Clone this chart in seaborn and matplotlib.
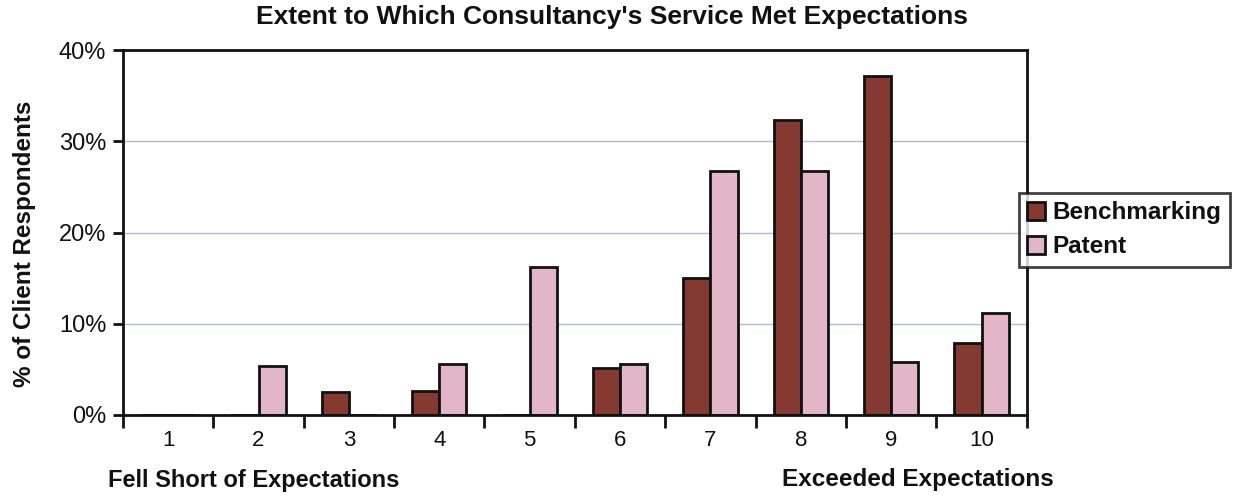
import matplotlib
matplotlib.use("Agg")
import matplotlib.pyplot as plt
import seaborn as sns
import pandas as pd
from matplotlib.ticker import FixedLocator, PercentFormatter

# Survey results: share of client respondents per rating (1-10)
ratings = [1, 2, 3, 4, 5, 6, 7, 8, 9, 10]
benchmarking = [0.0, 0.0, 2.5, 2.6, 0.0, 5.2, 15.0, 32.3, 37.2, 7.9]
patent = [0.0, 5.4, 0.0, 5.6, 16.2, 5.6, 26.8, 26.8, 5.8, 11.2]
series_names = ["Benchmarking", "Patent"]
series_colors = ["#843A30", "#E2B6C6"]

df = pd.DataFrame({
    "rating": ratings * 2,
    "pct": benchmarking + patent,
    "series": [series_names[0]] * len(ratings) + [series_names[1]] * len(ratings),
})

sns.set_theme(style="white")
plt.rcParams["font.family"] = ["Liberation Sans", "DejaVu Sans"]

ink = "#111111"
fig = plt.figure(figsize=(12.37, 4.97), dpi=100)
ax = fig.add_axes([0.0994, 0.165, 0.7306, 0.734])

sns.barplot(data=df, x="rating", y="pct", hue="series", hue_order=series_names,
            palette=series_colors, edgecolor=ink, linewidth=2.0,
            width=0.6, saturation=1, ax=ax, legend=True)

ax.set_ylim(0, 40)
ax.set_xlim(-0.5, 9.5)
ax.set_yticks([0, 10, 20, 30, 40])
ax.yaxis.set_major_formatter(PercentFormatter(decimals=0))
ax.grid(axis="y", color="#B6B6E2", linewidth=1.0)
ax.set_axisbelow(True)

for side in ["left", "bottom", "top", "right"]:
    ax.spines[side].set_visible(True)
    ax.spines[side].set_color(ink)
    ax.spines[side].set_linewidth(2.0)

# category labels centred, tick marks between categories
ax.set_xticks(range(len(ratings)))
ax.set_xticklabels([str(r) for r in ratings])
ax.xaxis.set_minor_locator(FixedLocator([i - 0.5 for i in range(len(ratings) + 1)]))
ax.tick_params(axis="x", which="major", length=0, pad=11, labelsize=16, colors=ink)
ax.tick_params(axis="x", which="minor", length=9, width=2, direction="out",
               color=ink, bottom=True)
ax.tick_params(axis="y", length=7, width=2, direction="out", color=ink,
               labelsize=17, labelcolor=ink, left=True, pad=5)

ax.set_xlabel("")
ax.set_ylabel("% of Client Respondents", fontsize=17.5, fontweight="bold", color=ink)
ax.yaxis.set_label_coords(-0.096, 0.47)

fig.text(0.495, 0.966, "Extent to Which Consultancy's Service Met Expectations",
         ha="center", va="center", fontsize=19, fontweight="bold", color=ink)

fig.text(0.087, 0.034, "Fell Short of Expectations", va="center", fontsize=17,
         fontweight="bold", color=ink)
fig.text(0.632, 0.036, "Exceeded Expectations", va="center", fontsize=17.5,
         fontweight="bold", color=ink)

leg = ax.legend(loc="center left", bbox_to_anchor=(0.991, 0.508), frameon=True,
                fontsize=17.5, handlelength=0.75, handleheight=0.75, handletextpad=0.3,
                borderpad=0.35, labelspacing=0.45, fancybox=False, borderaxespad=0)
leg.get_frame().set_edgecolor(ink)
leg.get_frame().set_linewidth(2.0)
for t in leg.get_texts():
    t.set_fontweight("bold")
    t.set_color(ink)

fig.savefig("out.png", dpi=100)
